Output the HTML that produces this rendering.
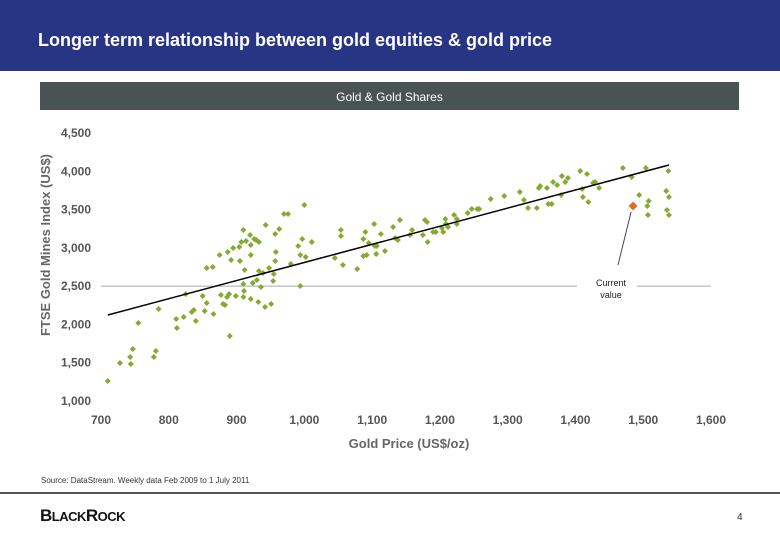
<!DOCTYPE html>
<html><head><meta charset="utf-8"><style>
body{margin:0;width:780px;height:540px;overflow:hidden;background:#fff;font-family:"Liberation Sans",Arial,sans-serif;position:relative}
.hdr{position:absolute;left:0;top:0;width:780px;height:71px;background:#283484}
.ttl{position:absolute;left:38px;top:30px;color:#fff;font-weight:bold;font-size:18px}
.ban{position:absolute;left:40px;top:82px;width:699px;height:28px;background:#4a5353;color:#fff;font-size:12px;text-align:center;line-height:30px}
.src{position:absolute;left:41px;top:476px;font-size:8px;color:#333}
.sep{position:absolute;left:0;top:492px;width:780px;height:2px;background:#555}
.logo{position:absolute;left:40px;top:506px;font-size:17px;font-weight:bold;color:#111;letter-spacing:-0.5px}
.pg{position:absolute;left:737px;top:512px;font-size:10px;color:#333}
</style></head><body>
<div class="hdr"></div>
<div class="ttl">Longer term relationship between gold equities &amp; gold price</div>
<div class="ban">Gold &amp; Gold Shares</div>
<svg id="chart" width="780" height="540" style="position:absolute;left:0;top:0"></svg>
<div class="src">Source: DataStream. Weekly data Feb 2009 to 1 July 2011</div>
<div class="sep"></div>
<div class="logo">B<span style="font-size:13px">LACK</span>R<span style="font-size:13px">OCK</span></div>
<div class="pg">4</div>
<script>
const goldX=[710,728,743,744,747,755,778,781,785,811,812,822,825,834,837,840,850,853,856,856,865,866,875,877,880,883,886,889,890,887,892,895,899,904,905,907,910,910,911,910,912,914,920,921,921,921,924,926,929,930,932,933,933,936,939,942,943,948,951,954,955,957,957,958,963,970,976,980,991,994,994,997,1000,1002,1011,1045,1054,1054,1057,1078,1087,1087,1090,1092,1095,1103,1104,1106,1107,1113,1119,1131,1134,1138,1141,1159,1156,1175,1178,1181,1182,1190,1194,1203,1205,1208,1209,1212,1221,1225,1225,1241,1247,1255,1258,1275,1295,1318,1324,1330,1343,1346,1348,1358,1360,1365,1367,1373,1379,1380,1385,1389,1407,1410,1411,1417,1419,1426,1429,1435,1470,1483,1494,1504,1506,1508,1507,1534,1535,1537,1538,1538];
const minesY=[1261,1496,1575,1483,1679,2019,1575,1653,2202,2071,1953,2097,2397,2162,2188,2045,2371,2175,2280,2737,2750,2136,2907,2384,2267,2254,2358,2397,1849,2946,2841,2998,2371,3011,2828,3077,3233,2358,2437,2528,2711,3090,3168,2907,3037,2332,2541,3116,3103,2580,2293,3077,2698,2489,2672,2228,3299,2737,2267,2567,2659,2828,3181,2946,3246,3442,3442,2789,3024,2502,2907,3116,3560,2881,3077,2868,3233,3155,2776,2724,2894,3116,3207,2907,3063,3312,3024,2920,3024,3181,2959,3272,3129,3103,3364,3233,3168,3168,3364,3338,3077,3207,3207,3259,3207,3377,3312,3272,3429,3377,3312,3455,3507,3507,3507,3638,3677,3729,3625,3521,3521,3782,3808,3782,3573,3573,3860,3821,3690,3939,3860,3912,4004,3769,3664,3964,3599,3847,3860,3782,4043,3925,3690,4043,3547,3612,3429,3743,3495,4004,3429,3664];
const currentX=[1485], currentY=[3547];
const trendX=[710,1538], trendY=[2123,4082];
const xTicks=[700,800,900,1000,1100,1200,1300,1400,1500,1600];
const xTickLabels=["700","800","900","1,000","1,100","1,200","1,300","1,400","1,500","1,600"];
const yTicks=[1000,1500,2000,2500,3000,3500,4000,4500];
const yTickLabels=["1,000","1,500","2,000","2,500","3,000","3,500","4,000","4,500"];
const refY=[2500];
const NS="http://www.w3.org/2000/svg";
const svg=document.getElementById('chart');
const sx=v=>101+(v-700)*610/900;
const sy=v=>401-(v-1000)*268/3500;
function mk(t,a,txt){const e=document.createElementNS(NS,t);for(const k in a)e.setAttribute(k,a[k]);if(txt!=null)e.textContent=txt;svg.appendChild(e);return e;}
let r1=mk('line',{x1:sx(700),x2:577,y1:sy(refY[0]),y2:sy(refY[0]),stroke:'#aaa','stroke-width':1});


let r2=mk('line',{x1:637,x2:sx(1600),y1:sy(refY[0]),y2:sy(refY[0]),stroke:'#aaa','stroke-width':1});


yTicks.forEach((v,i)=>{const t=mk('text',{x:61,y:sy(v)+4,'font-size':12,'font-weight':'bold',fill:'#555'},yTickLabels[i]);

});
xTicks.forEach((v,i)=>{const t=mk('text',{x:sx(v),y:424,'font-size':12,'font-weight':'bold',fill:'#555','text-anchor':'middle'},xTickLabels[i]);

});
let xt=mk('text',{x:409,y:448,'font-size':13,'font-weight':'bold',fill:'#666','text-anchor':'middle'},'Gold Price (US$/oz)');


let yt=mk('text',{x:0,y:0,'font-size':13,'font-weight':'bold',fill:'#666','text-anchor':'middle',transform:'translate(50,245) rotate(-90)'},'FTSE Gold Mines Index (US$)');


goldX.forEach((x,i)=>{const cx=sx(x),cy=sy(minesY[i]);
const p=mk('polygon',{points:`${cx},${cy-3} ${cx+3},${cy} ${cx},${cy+3} ${cx-3},${cy}`,fill:'#86a930'});

});
let tl=mk('line',{x1:sx(trendX[0]),y1:sy(trendY[0]),x2:sx(trendX[1]),y2:sy(trendY[1]),stroke:'#000','stroke-width':1.5});


let ar=mk('line',{x1:618,y1:265,x2:sx(currentX[0])-2,y2:sy(currentY[0])+6,stroke:'#445','stroke-width':1});


{const cx=sx(currentX[0]),cy=sy(currentY[0]);
const c=mk('polygon',{points:`${cx},${cy-4.5} ${cx+4.5},${cy} ${cx},${cy+4.5} ${cx-4.5},${cy}`,fill:'#e07020'});

}
let l1=mk('text',{x:611,y:286,'font-size':9,fill:'#222','text-anchor':'middle'},'Current');


let l2=mk('text',{x:611,y:298,'font-size':9,fill:'#222','text-anchor':'middle'},'value');


</script>
</body></html>
